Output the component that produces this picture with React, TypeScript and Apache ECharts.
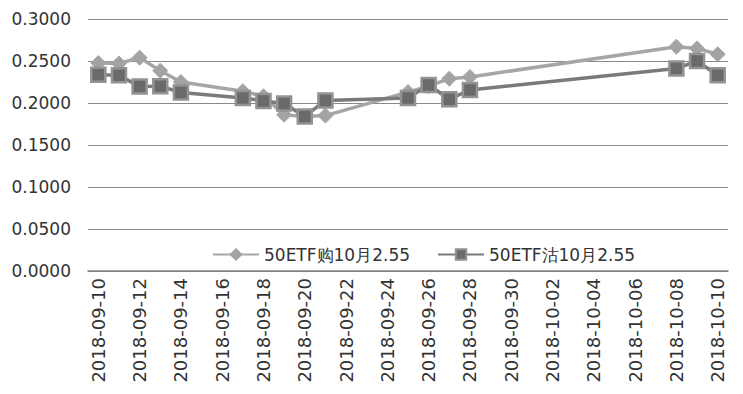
import React, { useEffect, useRef } from "react";
import * as echarts from "echarts";

const categories = [
  "2018-09-10", "2018-09-11", "2018-09-12", "2018-09-13", "2018-09-14", "2018-09-15",
  "2018-09-16", "2018-09-17", "2018-09-18", "2018-09-19", "2018-09-20", "2018-09-21",
  "2018-09-22", "2018-09-23", "2018-09-24", "2018-09-25", "2018-09-26", "2018-09-27",
  "2018-09-28", "2018-09-29", "2018-09-30", "2018-10-01", "2018-10-02", "2018-10-03",
  "2018-10-04", "2018-10-05", "2018-10-06", "2018-10-07", "2018-10-08", "2018-10-09",
  "2018-10-10",
];

const tradeDates = [
  "2018-09-10", "2018-09-11", "2018-09-12", "2018-09-13", "2018-09-14",
  "2018-09-17", "2018-09-18", "2018-09-19", "2018-09-20", "2018-09-21",
  "2018-09-25", "2018-09-26", "2018-09-27", "2018-09-28",
  "2018-10-08", "2018-10-09", "2018-10-10",
];

const callValues = [
  0.2475, 0.247, 0.254, 0.2385, 0.225,
  0.214, 0.208, 0.186, 0.184, 0.185,
  0.213, 0.22, 0.229, 0.231,
  0.267, 0.265, 0.258,
];

const putValues = [
  0.2335, 0.233, 0.2195, 0.22, 0.2125,
  0.206, 0.2025, 0.1995, 0.184, 0.203,
  0.206, 0.2215, 0.2045, 0.2155,
  0.241, 0.25, 0.233,
];

const seriesNames = ["50ETF购10月2.55", "50ETF沽10月2.55"];

const FONT = "DejaVu Sans";

export default function App() {
  const ref = useRef<HTMLDivElement>(null);
  useEffect(() => {
    if (!ref.current) return;
    const chart = echarts.init(ref.current, null, { renderer: "svg" });
    chart.setOption({
      animation: false,
      backgroundColor: "#ffffff",
      grid: { left: 88, right: 15, top: 19, bottom: 123, containLabel: false },
      legend: {
        left: 207,
        top: 241,
        itemWidth: 46,
        itemHeight: 13,
        itemGap: 27,
        textStyle: { fontFamily: FONT, fontSize: 17, color: "#333333" },
        data: seriesNames,
      },
      xAxis: {
        type: "category",
        data: categories,
        boundaryGap: true,
        axisLine: { show: true, lineStyle: { color: "#808080", width: 1.5 } },
        axisTick: { show: false },
        axisLabel: {
          rotate: 90,
          interval: 1,
          margin: 7,
          fontFamily: FONT,
          fontSize: 18,
          color: "#333333",
        },
        splitLine: { show: false },
      },
      yAxis: {
        type: "value",
        min: 0,
        max: 0.3,
        interval: 0.05,
        axisLine: { show: false },
        axisTick: { show: false },
        axisLabel: {
          margin: 17,
          fontFamily: FONT,
          fontSize: 17,
          color: "#333333",
          formatter: (v: number) => v.toFixed(4),
        },
        splitLine: { show: true, lineStyle: { color: "#8a8a8a", width: 1 } },
      },
      series: [
        {
          name: seriesNames[0],
          type: "line",
          data: tradeDates.map((d, i) => [d, callValues[i]]),
          symbol: "diamond",
          symbolSize: 15,
          showAllSymbol: true,
          lineStyle: { color: "#a6a6a6", width: 3.5 },
          itemStyle: { color: "#a3a3a3", borderColor: "#a3a3a3", borderWidth: 1 },
          z: 2,
        },
        {
          name: seriesNames[1],
          type: "line",
          data: tradeDates.map((d, i) => [d, putValues[i]]),
          symbol: "rect",
          symbolSize: 14,
          showAllSymbol: true,
          lineStyle: { color: "#7a7a7a", width: 3.5 },
          itemStyle: { color: "#6a6a6a", borderColor: "#939393", borderWidth: 2.5 },
          z: 3,
        },
      ],
    });
    return () => chart.dispose();
  }, []);
  return (
    <div
      ref={ref}
      style={{ position: "fixed", left: 0, top: 0, width: 743, height: 394, background: "#fff" }}
    />
  );
}
